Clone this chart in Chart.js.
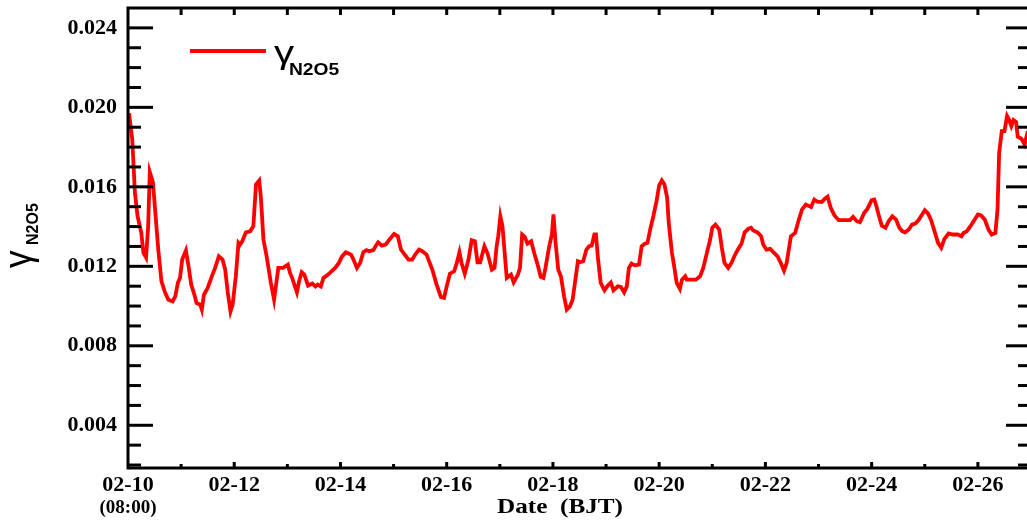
<!DOCTYPE html>
<html>
<head>
<meta charset="utf-8">
<title>γN2O5</title>
<script src="https://cdn.jsdelivr.net/npm/chart.js@4.4.1/dist/chart.umd.min.js"></script>
<style>
  html, body { margin: 0; padding: 0; background: #fff; overflow: hidden; }
  #wrap { width: 1027px; height: 526px; overflow: hidden; }
  canvas { display: block; }
</style>
</head>
<body>
<div id="wrap"><canvas id="gammaChart" width="1032" height="526"></canvas></div>
<script>
// time axis: days since 02-10 08:00 (BJT)
const days = [
  0.02, 0.08, 0.13, 0.18, 0.25, 0.29, 0.34, 0.38, 0.41, 0.47, 0.52, 0.57, 0.63, 0.70, 0.76, 0.84, 0.89, 0.94, 0.98,
  1.02, 1.09, 1.14, 1.19, 1.25, 1.29, 1.36, 1.39, 1.43, 1.50, 1.59, 1.64, 1.71, 1.78, 1.83, 1.88, 1.93, 1.97,
  2.03, 2.08, 2.11, 2.15, 2.22, 2.30, 2.36, 2.41, 2.47, 2.50, 2.55, 2.61, 2.69, 2.75, 2.83, 2.92,
  3.01, 3.05, 3.09, 3.18, 3.22, 3.27, 3.32, 3.39, 3.47, 3.53, 3.57, 3.63, 3.68, 3.74, 3.80, 3.90, 3.97,
  4.03, 4.10, 4.20, 4.24, 4.31, 4.37, 4.43, 4.49, 4.54, 4.62, 4.66, 4.71, 4.78, 4.85, 4.93,
  5.01, 5.08, 5.14, 5.21, 5.28, 5.35, 5.42, 5.48, 5.54, 5.62, 5.68, 5.73, 5.81, 5.89, 5.95,
  6.00, 6.06, 6.14, 6.19, 6.24, 6.28, 6.34, 6.41, 6.47, 6.53, 6.58, 6.63, 6.71, 6.77, 6.85, 6.90, 6.94, 6.97,
  7.01, 7.05, 7.13, 7.21, 7.26, 7.34, 7.38, 7.42, 7.47, 7.52, 7.59, 7.65, 7.72, 7.77, 7.82, 7.86, 7.93, 7.98,
  8.01, 8.05, 8.10, 8.15, 8.21, 8.26, 8.32, 8.37, 8.41, 8.47, 8.51, 8.57, 8.63, 8.68, 8.73, 8.78, 8.81, 8.85, 8.90, 8.97,
  9.03, 9.09, 9.14, 9.22, 9.28, 9.34, 9.39, 9.43, 9.48, 9.54, 9.62, 9.67, 9.73, 9.78, 9.83, 9.89, 9.95,
  10.00, 10.05, 10.10, 10.15, 10.18, 10.24, 10.28, 10.33, 10.39, 10.43, 10.49, 10.52, 10.61, 10.69, 10.77, 10.83, 10.89, 10.96,
  11.00, 11.06, 11.13, 11.18, 11.23, 11.30, 11.36, 11.43, 11.49, 11.55, 11.61, 11.68, 11.73, 11.77, 11.85, 11.92, 11.96,
  12.02, 12.09, 12.15, 12.23, 12.29, 12.35, 12.40, 12.48, 12.56, 12.62, 12.69, 12.76, 12.86, 12.92, 12.98,
  13.06, 13.12, 13.17, 13.23, 13.30, 13.38, 13.48, 13.59, 13.65, 13.72, 13.78, 13.86, 13.92,
  14.00, 14.05, 14.09, 14.13, 14.19, 14.26, 14.32, 14.39, 14.46, 14.52, 14.58, 14.63, 14.70, 14.76, 14.82, 14.88, 14.95,
  15.00, 15.06, 15.12, 15.19, 15.25, 15.31, 15.37, 15.45, 15.52, 15.62, 15.69, 15.73, 15.79, 15.86, 15.92,
  16.00, 16.06, 16.13, 16.20, 16.26, 16.33, 16.37, 16.40, 16.45, 16.50, 16.55, 16.59, 16.63, 16.67, 16.72, 16.75, 16.82, 16.88, 16.94
];

const gammaN2O5 = [
  0.01970, 0.01839, 0.01571, 0.01452, 0.01370, 0.01269, 0.01244, 0.01402, 0.01674, 0.01622, 0.01452, 0.01284, 0.01124, 0.01067, 0.01032, 0.01024, 0.01049, 0.01118, 0.01143,
  0.01234, 0.01279, 0.01200, 0.01108, 0.01057, 0.01016, 0.01007, 0.00982, 0.01057, 0.01091, 0.01158, 0.01192, 0.01250, 0.01234, 0.01183, 0.01066, 0.00973, 0.01007,
  0.01150, 0.01318, 0.01309, 0.01326, 0.01371, 0.01376, 0.01402, 0.01612, 0.01632, 0.01553, 0.01335, 0.01250, 0.01116, 0.01032, 0.01192, 0.01192,
  0.01209, 0.01167, 0.01142, 0.01069, 0.01124, 0.01170, 0.01158, 0.01103, 0.01113, 0.01099, 0.01108, 0.01099, 0.01142, 0.01153, 0.01167, 0.01192, 0.01217,
  0.01250, 0.01271, 0.01259, 0.01237, 0.01192, 0.01217, 0.01271, 0.01281, 0.01276, 0.01281, 0.01301, 0.01321, 0.01304, 0.01309, 0.01338,
  0.01363, 0.01351, 0.01284, 0.01259, 0.01234, 0.01234, 0.01264, 0.01284, 0.01276, 0.01259, 0.01217, 0.01183, 0.01108, 0.01046, 0.01041,
  0.01099, 0.01163, 0.01175, 0.01217, 0.01271, 0.01217, 0.01163, 0.01234, 0.01331, 0.01326, 0.01220, 0.01220, 0.01301, 0.01264, 0.01183, 0.01192, 0.01301, 0.01351,
  0.01452, 0.01402, 0.01142, 0.01158, 0.01119, 0.01158, 0.01192, 0.01360, 0.01348, 0.01314, 0.01326, 0.01264, 0.01200, 0.01147, 0.01142, 0.01192, 0.01301, 0.01360,
  0.01461, 0.01318, 0.01183, 0.01150, 0.01049, 0.00982, 0.00998, 0.01032, 0.01108, 0.01225, 0.01220, 0.01225, 0.01284, 0.01301, 0.01304, 0.01360, 0.01360, 0.01234, 0.01116, 0.01079,
  0.01103, 0.01119, 0.01079, 0.01099, 0.01096, 0.01069, 0.01099, 0.01192, 0.01214, 0.01205, 0.01209, 0.01301, 0.01314, 0.01318, 0.01385, 0.01452, 0.01528,
  0.01607, 0.01632, 0.01612, 0.01545, 0.01419, 0.01268, 0.01204, 0.01116, 0.01086, 0.01133, 0.01150, 0.01133, 0.01133, 0.01133, 0.01150, 0.01192, 0.01259, 0.01335,
  0.01394, 0.01410, 0.01385, 0.01293, 0.01217, 0.01192, 0.01217, 0.01259, 0.01288, 0.01314, 0.01371, 0.01390, 0.01394, 0.01381, 0.01371, 0.01351, 0.01309,
  0.01284, 0.01288, 0.01271, 0.01250, 0.01217, 0.01178, 0.01217, 0.01351, 0.01368, 0.01427, 0.01486, 0.01511, 0.01499, 0.01536, 0.01525,
  0.01523, 0.01540, 0.01550, 0.01494, 0.01456, 0.01432, 0.01432, 0.01432, 0.01449, 0.01427, 0.01422, 0.01469, 0.01489,
  0.01533, 0.01536, 0.01502, 0.01461, 0.01405, 0.01394, 0.01427, 0.01452, 0.01435, 0.01394, 0.01376, 0.01371, 0.01385, 0.01410, 0.01415, 0.01432, 0.01461,
  0.01482, 0.01466, 0.01432, 0.01371, 0.01318, 0.01293, 0.01338, 0.01365, 0.01360, 0.01360, 0.01351, 0.01368, 0.01376, 0.01402, 0.01427,
  0.01461, 0.01456, 0.01435, 0.01385, 0.01360, 0.01368, 0.01486, 0.01771, 0.01880, 0.01880, 0.01956, 0.01936, 0.01906, 0.01936, 0.01926, 0.01852, 0.01842, 0.01813, 0.01880
];

const xTickDays = [0, 2, 4, 6, 8, 10, 12, 14, 16];
const xTickLabels = ['02-10', '02-12', '02-14', '02-16', '02-18', '02-20', '02-22', '02-24', '02-26'];
const yTickValues = [0.004, 0.008, 0.012, 0.016, 0.020, 0.024];
const yTickLabels = ['0.004', '0.008', '0.012', '0.016', '0.020', '0.024'];

const RED = '#ff0000';
const tickFont = { family: 'Liberation Serif', weight: 'bold', size: 22 };

function seg(ctx, x1, y1, x2, y2) {
    ctx.beginPath();
    ctx.moveTo(x1, y1);
    ctx.lineTo(x2, y2);
    ctx.stroke();
}

// box frame with inward ticks on all four sides
const axisFrame = {
    id: 'axisFrame',
    afterDraw(chart) {
        const { ctx, chartArea: a, scales: { x, y } } = chart;
        ctx.save();
        ctx.strokeStyle = '#000';
        ctx.lineWidth = 3;
        ctx.lineCap = 'butt';
        ctx.strokeRect(a.left, a.top, a.right - a.left, a.bottom - a.top);

        for (let i = 2; i <= 25; i++) {
            const py = y.getPixelForValue(i / 1000);
            if (py < a.top + 2 || py > a.bottom - 2) continue;
            const len = i % 4 === 0 ? 25 : 13;
            seg(ctx, a.left, py, a.left + len, py);
            seg(ctx, a.right, py, a.right - len, py);
        }
        for (let d = 1; d < 17; d++) {
            const px = x.getPixelForValue(d);
            seg(ctx, px, a.top, px, a.top + 7);
            seg(ctx, px, a.bottom, px, a.bottom - (d % 2 === 0 ? 6 : 4));
        }
        ctx.restore();
    }
};

// titles, legend and the start-time note
const chartText = {
    id: 'chartText',
    afterDraw(chart) {
        const { ctx, scales: { x } } = chart;
        ctx.save();
        ctx.fillStyle = '#000';

        // start time under the first date
        ctx.font = 'bold 19px "Liberation Serif"';
        ctx.textAlign = 'center';
        ctx.textBaseline = 'middle';
        ctx.fillText('(08:00)', x.getPixelForValue(0), 508);

        // x axis title
        ctx.save();
        ctx.translate(560, 508);
        ctx.scale(1.2, 1);
        ctx.font = 'bold 21px "Liberation Serif"';
        ctx.fillText('Date  (BJT)', 0, 0);
        ctx.restore();

        // y axis title, rotated
        ctx.save();
        ctx.translate(31, 268);
        ctx.rotate(-Math.PI / 2);
        ctx.textAlign = 'left';
        ctx.textBaseline = 'alphabetic';
        ctx.save();
        ctx.scale(1.1, 1.2);
        ctx.font = '32px "Liberation Sans"';
        ctx.fillText('γ', 0, 0);
        ctx.restore();
        ctx.font = 'bold 16px "Liberation Sans"';
        ctx.fillText('N2O5', 23, 7);
        ctx.restore();

        // legend
        ctx.strokeStyle = RED;
        ctx.lineWidth = 4;
        seg(ctx, 190, 51, 266, 51);
        ctx.textAlign = 'left';
        ctx.textBaseline = 'alphabetic';
        ctx.save();
        ctx.translate(274, 63);
        ctx.scale(1.3, 1);
        ctx.font = '31px "Liberation Sans"';
        ctx.fillText('γ', 0, 0);
        ctx.restore();
        ctx.save();
        ctx.translate(289, 75);
        ctx.scale(1.2, 1);
        ctx.font = 'bold 16px "Liberation Sans"';
        ctx.fillText('N2O5', 0, 0);
        ctx.restore();

        ctx.restore();
    }
};

const ctx = document.getElementById('gammaChart').getContext('2d');

new Chart(ctx, {
    type: 'line',
    data: {
        datasets: [{
            label: 'γN2O5',
            data: days.map((d, i) => ({ x: d, y: gammaN2O5[i] })),
            borderColor: RED,
            borderWidth: 3.8,
            pointRadius: 0,
            tension: 0,
            fill: false
        }]
    },
    options: {
        responsive: false,
        devicePixelRatio: 1,
        animation: false,
        layout: { padding: { top: 8, right: 1, left: 0, bottom: 0 } },
        plugins: {
            legend: { display: false },
            tooltip: { enabled: false }
        },
        scales: {
            x: {
                type: 'linear',
                min: 0,
                max: 17,
                grid: { display: false, drawTicks: false },
                border: { display: false },
                afterBuildTicks: scale => { scale.ticks = xTickDays.map(v => ({ value: v })); },
                afterFit: scale => { scale.height = 58; scale.paddingLeft = 0; scale.paddingRight = 0; },
                ticks: {
                    font: tickFont,
                    color: '#000',
                    padding: 4,
                    maxRotation: 0,
                    autoSkip: false,
                    callback: (v, i) => xTickLabels[i]
                }
            },
            y: {
                min: 0.00185,
                max: 0.025,
                grid: { display: false, drawTicks: false },
                border: { display: false },
                afterBuildTicks: scale => { scale.ticks = yTickValues.map(v => ({ value: v })); },
                afterFit: scale => { scale.width = 128; scale.paddingTop = 0; scale.paddingBottom = 0; },
                ticks: {
                    font: tickFont,
                    color: '#000',
                    padding: 11,
                    autoSkip: false,
                    callback: (v, i) => yTickLabels[i]
                }
            }
        }
    },
    plugins: [axisFrame, chartText]
});
</script>
</body>
</html>
